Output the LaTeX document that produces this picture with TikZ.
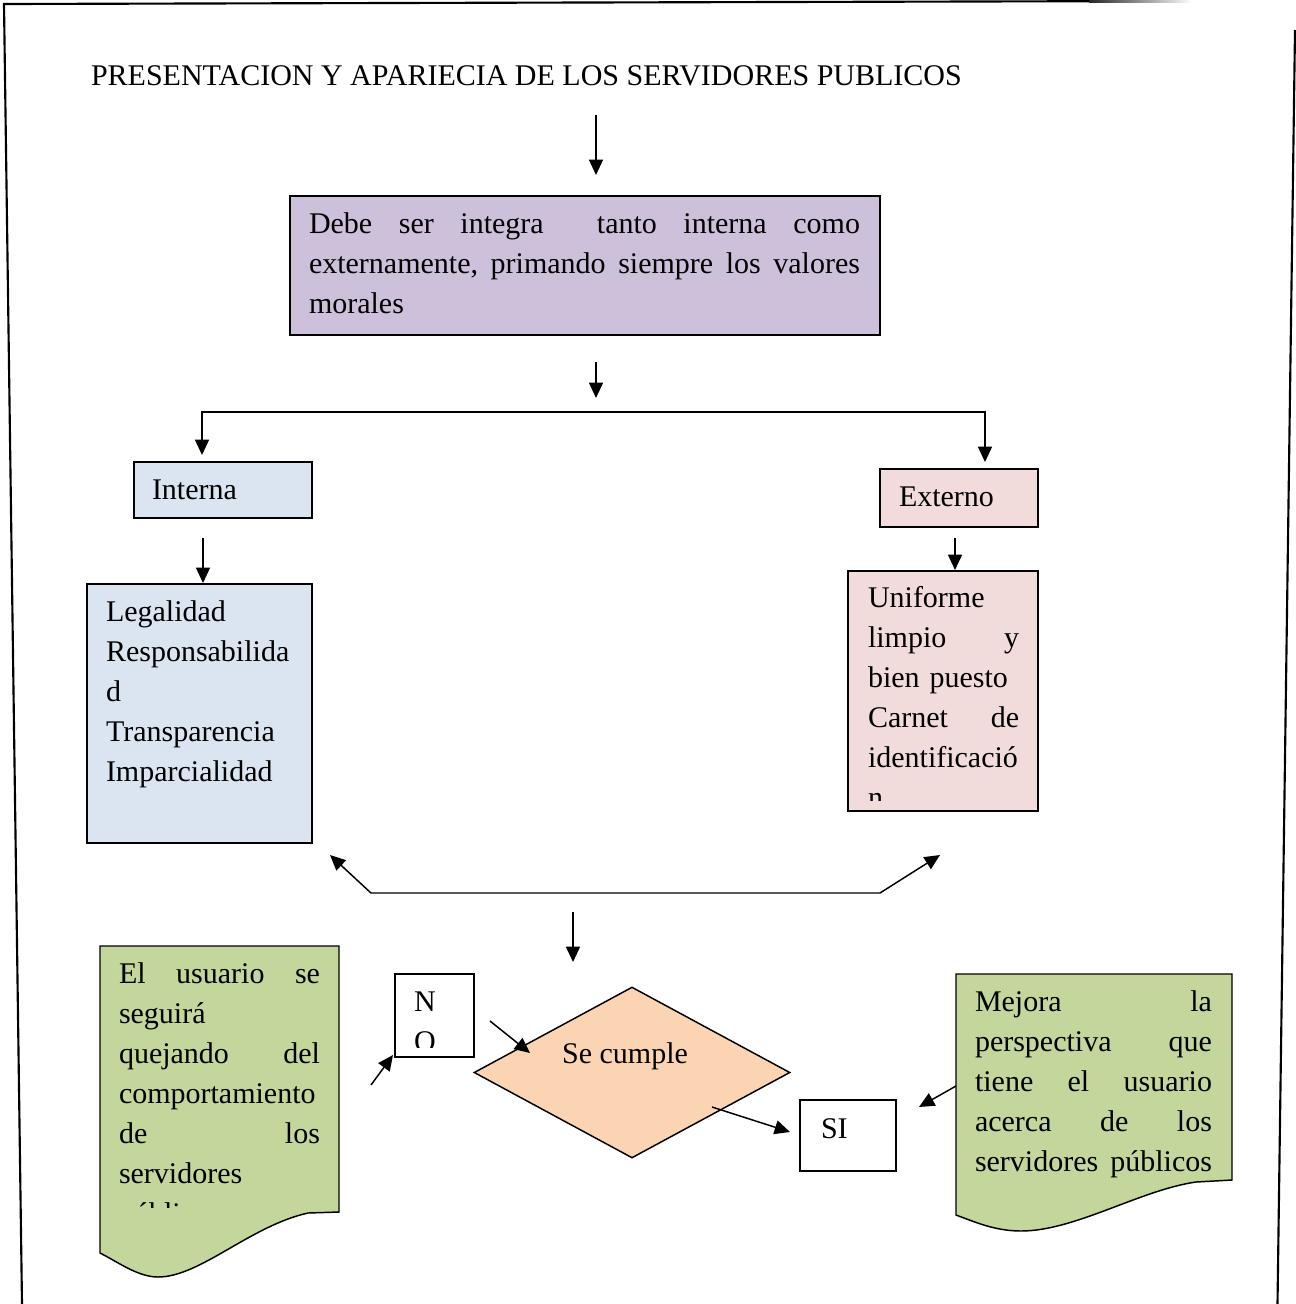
\documentclass[tikz,border=0pt]{standalone}
\usepackage{fontspec}
\setmainfont{Liberation Serif}
\usetikzlibrary{arrows.meta,shapes.geometric,fit}
\definecolor{lilac}{HTML}{CCC0DA}
\definecolor{paleblue}{HTML}{DBE5F1}
\definecolor{palerose}{HTML}{F2DCDB}
\definecolor{peach}{HTML}{FBD4B4}
\definecolor{sage}{HTML}{C3D69B}
\tikzset{
  box/.style={draw, line width=1.1pt, inner sep=0pt},
  txt/.style={anchor=base west, inner sep=0pt, outer sep=0pt, align=left,
    font=\fontsize{22.5pt}{30pt}\selectfont},
  conn/.style={line width=1.1pt, -{Triangle[length=11.5pt,width=10.5pt]}},
  biconn/.style={line width=1.1pt, {Triangle[length=11.5pt,width=10.5pt]}-{Triangle[length=11.5pt,width=10.5pt]}},
  docshape/.style={draw, line width=1.1pt, fill=sage},
  frame/.style={line width=1.6pt},
}
\begin{document}
\hyphenpenalty=10000 \exhyphenpenalty=10000
\begin{tikzpicture}[x=0.75pt,y=-0.75pt]
\useasboundingbox (0,0) rectangle (1296,1304);

% page frame
\draw[frame] (1090,1.2) -- (4,4) -- (22,1304);
\shade[left color=black!85, right color=white] (1089,0) rectangle (1192,2.2);
\draw[frame] (1295,30) -- (1277.5,1304);

% title
\node[txt] (title) at (91,85) {PRESENTACION Y APARIECIA DE LOS SERVIDORES PUBLICOS};
\coordinate (t0) at (596,115);
\coordinate (t1) at (596,175);
\draw[conn] (t0) -- (t1);

% main statement
\node[box, fill=lilac, fit={(290,196) (880,335)}] (debe) {};
\node[txt, text width=413.25pt] (debetxt) at (309,233)
  {Debe\hfill ser\hfill integra\hfill\hfill tanto\hfill interna\hfill como\\
   externamente,\hfill primando\hfill siempre\hfill los\hfill valores\\
   morales};
\coordinate (d0) at (596,362);
\coordinate (d1) at (596,398);
\draw[conn] (d0) -- (d1);

% branch
\coordinate (bl) at (202,455);
\coordinate (tl) at (202,412);
\coordinate (tr) at (985,412);
\coordinate (br) at (985,462);
\draw[biconn] (bl) -- (tl) -- (tr) -- (br);

% internal side
\node[box, fill=paleblue, fit={(134,462) (312,518)}] (interna) {};
\node[txt] (internatxt) at (152,499) {Interna};
\coordinate (i0) at (203,538);
\coordinate (i1) at (203,583);
\draw[conn] (i0) -- (i1);
\node[box, fill=paleblue, fit={(87,584) (312,843)}] (legal) {};
\node[txt, text width=150pt] (legaltxt) at (106,621.5)
  {Legalidad\\ Responsabilida\\ d\\ Transparencia\\ Imparcialidad};

% external side
\node[box, fill=palerose, fit={(880,469) (1038,527)}] (externo) {};
\node[txt] (externotxt) at (899,506) {Externo};
\coordinate (e0) at (955,538);
\coordinate (e1) at (955,570);
\draw[conn] (e0) -- (e1);
\node[box, fill=palerose, fit={(848,571) (1038,811)}] (uniforme) {};
\begin{scope}
  \clip (848,571) rectangle (1038,800);
  \node[txt, text width=113.4pt] (uniformetxt) at (868,607)
    {Uniforme\\ limpio\hfill y\\ bien puesto\\ Carnet\hfill de\\ identificació\\ n};
\end{scope}

% gathering bracket
\coordinate (k1) at (330,855);
\coordinate (k2) at (371,893);
\coordinate (k3) at (880,893);
\coordinate (k4) at (940,855);
\draw[biconn] (k1) -- (k2) -- (k3) -- (k4);
\coordinate (c0) at (573,912);
\coordinate (c1) at (573,962);
\draw[conn] (c0) -- (c1);

% decision
\node[diamond, draw, line width=1.1pt, fill=peach, inner sep=0pt,
      minimum width=237pt, minimum height=128.25pt] (cumple) at (632,1072.5) {};
\node[txt, anchor=base] (cumpletxt) at (625,1063) {Se cumple};

% NO branch
\node[box, fill=white, fit={(395,974) (474,1057)}] (no) {};
\begin{scope}
  \clip (395,974) rectangle (474,1047);
  \node[txt, text width=40pt] (notxt) at (414,1011.5) {N\\O};
\end{scope}
\coordinate (n0) at (490,1021);
\coordinate (n1) at (530,1053);
\draw[conn] (n0) -- (n1);
\coordinate (m0) at (371,1085);
\coordinate (m1) at (393,1055);
\draw[conn] (m0) -- (m1);

% SI branch
\node[box, fill=white, fit={(800,1100) (896,1171)}] (si) {};
\node[txt] (sitxt) at (821,1138) {SI};
\coordinate (s0) at (712,1107);
\coordinate (s1) at (790,1132);
\draw[conn] (s0) -- (s1);

% outcome documents
\draw[docshape] (100,946) -- (339,946) -- (339,1212) -- (308,1213)
  .. controls (250,1226) and (200,1277) .. (158,1277)
  .. controls (138,1277) and (118,1262) .. (100,1253) -- cycle;
\begin{scope}
  \clip (100,946) rectangle (339,1207);
  \node[txt, text width=150.75pt] (quejatxt) at (119,983)
    {El\hfill usuario\hfill se\\ seguirá\\ quejando\hfill del\\ comportamiento\\
     de\hfill los\\ servidores\\ públicos};
\end{scope}

\draw[docshape] (956,974) -- (1232,974) -- (1232,1180) -- (1196,1182)
  .. controls (1140,1190) and (1075,1231) .. (1021,1231)
  .. controls (995,1231) and (975,1222) .. (956,1215) -- cycle;
\node[txt, text width=177.75pt] (mejoratxt) at (975,1011)
  {Mejora\hfill la\\ perspectiva\hfill que\\ tiene\hfill el\hfill usuario\\
   acerca\hfill de\hfill los\\ servidores\hfill públicos};
\coordinate (r0) at (956,1086);
\coordinate (r1) at (919,1107);
\draw[conn] (r0) -- (r1);

\end{tikzpicture}
\end{document}
